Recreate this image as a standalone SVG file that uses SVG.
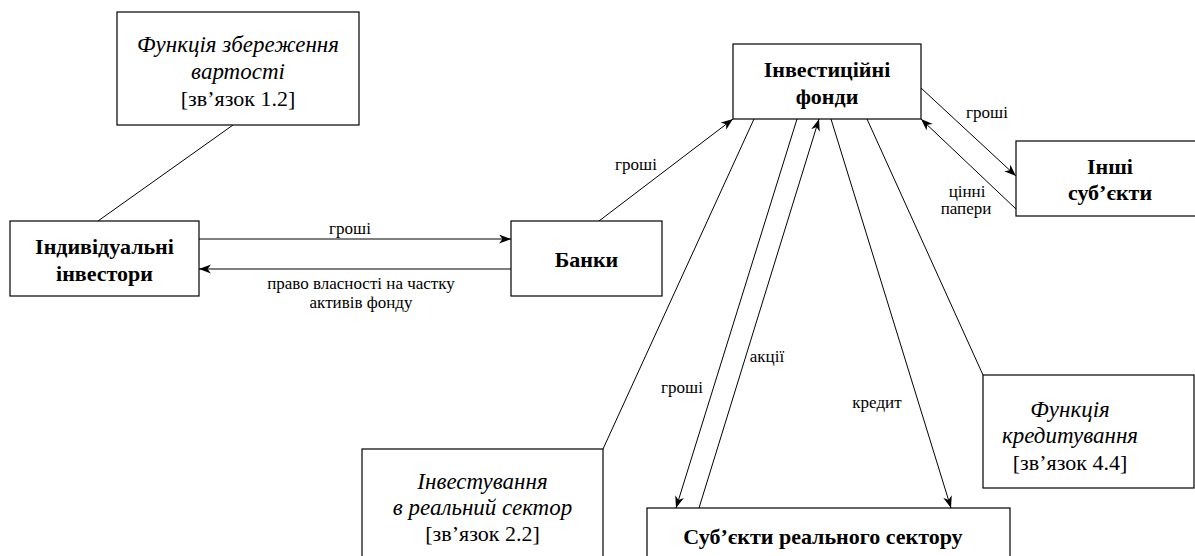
<svg xmlns="http://www.w3.org/2000/svg" width="1195" height="556" viewBox="0 0 1195 556">
<defs>
<style>
.box{fill:#fff;stroke:#000;stroke-width:1.2}
.b{font-weight:bold;font-size:22px}
.i{font-style:italic;font-size:23px}
.n{font-size:22px}
.l{font-size:17px}
.c{stroke:#000;stroke-width:1;fill:none}
.a{marker-end:url(#ah)}
</style>
<marker id="ah" markerWidth="13" markerHeight="10" refX="12" refY="4.5" orient="auto" markerUnits="userSpaceOnUse">
<path d="M0,0 L12,4.5 L0,9 L3.5,4.5 z" fill="#000"/>
</marker>
</defs>
<rect width="1195" height="556" fill="#fff"/>
<g font-family="'Liberation Serif', 'Times New Roman', serif" text-anchor="middle" fill="#000">
<g id="connectors">
<line class="c" x1="233" y1="125" x2="98" y2="221"/>
<line class="c a" x1="199" y1="239" x2="511" y2="239"/>
<line class="c a" x1="511" y1="269" x2="199" y2="269"/>
<line class="c a" x1="599" y1="221" x2="733" y2="119"/>
<line class="c a" x1="921" y1="88" x2="1016" y2="176"/>
<line class="c a" x1="1016" y1="209" x2="921" y2="119"/>
<line class="c" x1="754" y1="119" x2="603" y2="449"/>
<line class="c a" x1="797" y1="119" x2="676" y2="508"/>
<line class="c a" x1="699" y1="508" x2="819" y2="119"/>
<line class="c a" x1="831" y1="119" x2="951" y2="508"/>
<line class="c" x1="867" y1="119" x2="983" y2="375"/>
<text class="l" x="350" y="234">гроші</text>
<text class="l" x="361" y="289">право власності на частку</text>
<text class="l" x="361" y="308">активів фонду</text>
<text class="l" x="636" y="170">гроші</text>
<text class="l" x="987" y="118">гроші</text>
<text class="l" x="967" y="197">цінні</text>
<text class="l" x="966" y="214">папери</text>
<text class="l" x="767" y="362">акції</text>
<text class="l" x="682" y="393">гроші</text>
<text class="l" x="877" y="408">кредит</text>
</g>
<g id="n-func-save">
<rect class="box" x="117" y="12" width="242" height="113"/>
<text class="i" x="238" y="52">Функція збереження</text>
<text class="i" x="238" y="79">вартості</text>
<text class="n" x="238" y="106">[зв’язок 1.2]</text>
</g>
<g id="n-indiv">
<rect class="box" x="10" y="221" width="189" height="75"/>
<text class="b" x="104.5" y="254">Індивідуальні</text>
<text class="b" x="104.5" y="281">інвестори</text>
</g>
<g id="n-banks">
<rect class="box" x="511" y="221" width="151" height="75"/>
<text class="b" x="586.5" y="267">Банки</text>
</g>
<g id="n-funds">
<rect class="box" x="733" y="44" width="188" height="75"/>
<text class="b" x="827" y="77">Інвестиційні</text>
<text class="b" x="827" y="104">фонди</text>
</g>
<g id="n-other">
<rect class="box" x="1016" y="141" width="188" height="75"/>
<text class="b" x="1110" y="174">Інші</text>
<text class="b" x="1110" y="200">суб’єкти</text>
</g>
<g id="n-real">
<rect class="box" x="647" y="508" width="363" height="60"/>
<text class="b" x="823" y="544">Суб’єкти реального сектору</text>
</g>
<g id="n-invest-real">
<rect class="box" x="362" y="449" width="241" height="120"/>
<text class="i" x="482.5" y="489">Інвестування</text>
<text class="i" x="482.5" y="515">в реальний сектор</text>
<text class="n" x="482.5" y="541">[зв’язок 2.2]</text>
</g>
<g id="n-func-credit">
<rect class="box" x="983" y="375" width="211" height="113"/>
<text class="i" x="1070" y="417">Функція</text>
<text class="i" x="1070" y="443">кредитування</text>
<text class="n" x="1070" y="470">[зв’язок 4.4]</text>
</g>
</g>
</svg>
